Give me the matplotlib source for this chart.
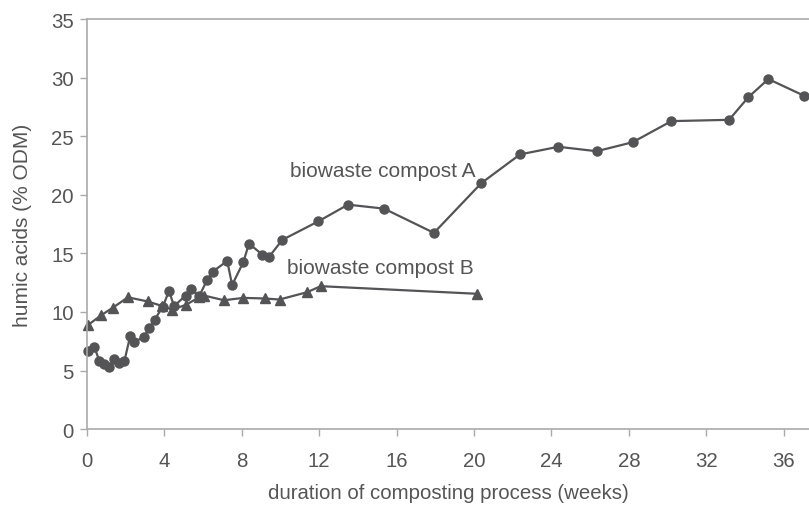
import matplotlib
matplotlib.use("Agg")
import matplotlib.pyplot as plt

plt.rcParams['font.family'] = ['Liberation Sans', 'DejaVu Sans']

# biowaste compost A (circles)
weeks_a = [0.07, 0.38, 0.64, 0.9, 1.15, 1.41, 1.67, 1.93, 2.24, 2.44, 2.96, 3.22,
           3.5, 3.92, 4.24, 4.5, 5.1, 5.4, 5.8, 6.2, 6.5, 7.25, 7.5, 8.08, 8.37,
           9.06, 9.41, 10.09, 11.95, 13.49, 15.35, 17.93, 20.38, 22.38, 24.36,
           26.34, 28.2, 30.2, 33.18, 34.18, 35.21, 37.05]
humic_a = [6.7, 7.0, 5.84, 5.56, 5.28, 5.99, 5.65, 5.79, 7.98, 7.42, 7.9, 8.64,
           9.35, 10.45, 11.8, 10.5, 11.4, 11.95, 11.35, 12.7, 13.45, 14.35, 12.3,
           14.25, 15.83, 14.9, 14.7, 16.15, 17.73, 19.16, 18.82, 16.75, 21.0,
           23.45, 24.1, 23.72, 24.49, 26.29, 26.4, 28.34, 29.88, 28.46]

# biowaste compost B (triangles)
weeks_b = [0.05, 0.72, 1.32, 2.12, 3.13, 3.9, 4.4, 5.1, 5.8, 6.05, 7.08, 8.08,
           9.2, 9.95, 11.38, 12.08, 20.17]
humic_b = [8.88, 9.7, 10.35, 11.25, 10.9, 10.5, 10.2, 10.6, 11.25, 11.4, 11.0,
           11.2, 11.15, 11.06, 11.69, 12.2, 11.55]

x_ticks = [0, 4, 8, 12, 16, 20, 24, 28, 32, 36]
y_ticks = [0, 5, 10, 15, 20, 25, 30, 35]

line_col = '#545456'
text_col = '#555555'
axis_col = '#aaaaaa'

fig = plt.figure(figsize=(8.09, 5.06), dpi=100)
ax = fig.add_axes([0.1075, 0.150, 0.8925, 0.8103])

ax.plot(weeks_b, humic_b, '-^', color=line_col, lw=1.6, ms=7, clip_on=False)
ax.plot(weeks_a, humic_a, '-o', color=line_col, lw=1.6, ms=6.5, clip_on=False)

ax.text(10.49, 22.07, 'biowaste compost A', fontsize=15, color=text_col, va='center')
ax.text(10.34, 13.77, 'biowaste compost B', fontsize=15, color=text_col, va='center')

ax.set_xlim(0, 37.31)
ax.set_ylim(0, 35)
ax.set_xticks(x_ticks)
ax.set_yticks(y_ticks)
ax.tick_params(colors=axis_col, labelcolor=text_col, labelsize=14.7, length=5, width=1)
ax.tick_params(axis='x', pad=10.5)
ax.tick_params(axis='y', pad=4.5)

ax.spines['right'].set_visible(False)
for s in ['left', 'bottom', 'top']:
    ax.spines[s].set_color(axis_col)
    ax.spines[s].set_linewidth(1.2)

ax.set_xlabel('duration of composting process (weeks)', fontsize=14.7, color=text_col, labelpad=9.5)
ax.set_ylabel('humic acids (% ODM)', fontsize=15, color=text_col, labelpad=13.5)

fig.savefig('out.png', dpi=100)
